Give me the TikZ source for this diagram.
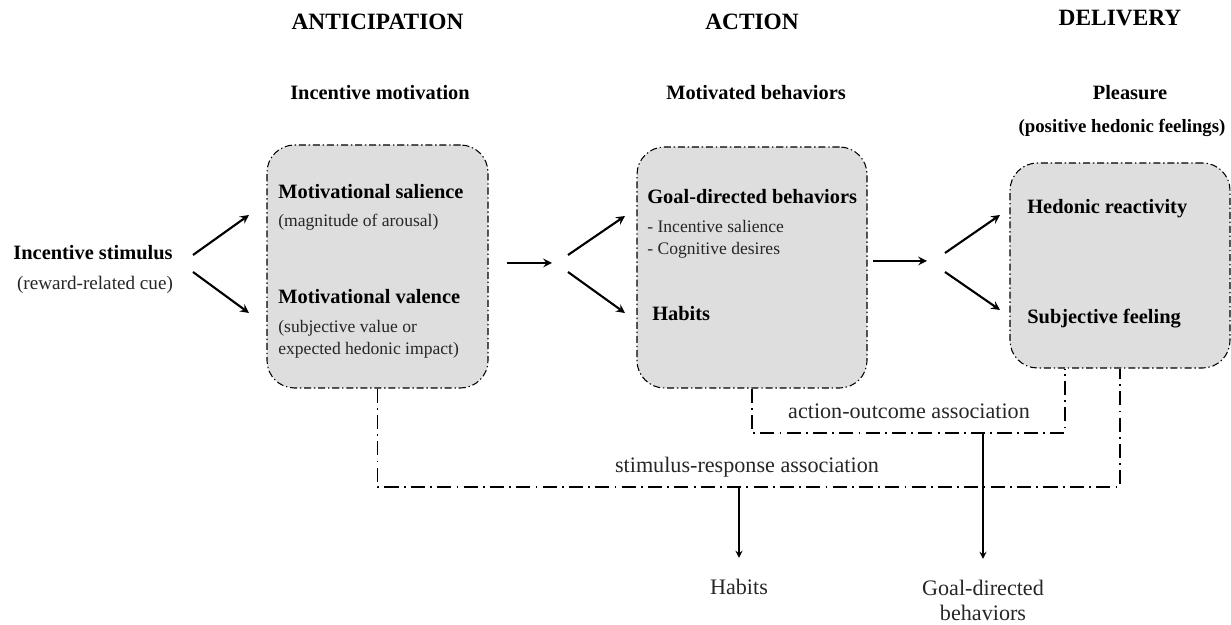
\documentclass[tikz,border=0pt]{standalone}
\usepackage{fontspec}
\setmainfont{Liberation Serif}
\usetikzlibrary{arrows}
\definecolor{boxgray}{HTML}{DEDEDE}
\begin{document}
\begin{tikzpicture}[>=stealth,x=1cm,y=1cm,
	box/.style={draw,fill=boxgray,rounded corners=0.55cm,line width=0.6pt,dash pattern=on 4pt off 1.6pt on 0.8pt off 1.6pt},
	head/.style={font=\fontsize{13.3}{15}\selectfont\bfseries},
	title/.style={font=\fontsize{11.6}{13}\selectfont\bfseries},
	lab/.style={anchor=west,inner sep=0pt,font=\fontsize{11.6}{13}\selectfont\bfseries},
	note/.style={anchor=west,inner sep=0pt,align=left,text=black!85,font=\fontsize{10}{12.5}\selectfont},
	outtext/.style={inner sep=0pt,align=center,text=black!85,font=\fontsize{12.6}{14.2}\selectfont},
	assoc/.style={line width=0.9pt,dash pattern=on 8pt off 3pt on 1pt off 3pt},
	flow/.style={->,line width=1.2pt}]
	\useasboundingbox (0,0) rectangle (24.62,12.5);
	% stages
	\node[head] (antic) at (7.55,12.06) {ANTICIPATION};
	\node[head] (act) at (15.04,12.06) {ACTION};
	\node[head] (deliv) at (22.4,12.14) {DELIVERY};
	\node[title] (incmot) at (7.6,10.64) {Incentive motivation};
	\node[title] (motbeh) at (15.12,10.64) {Motivated behaviors};
	\node[title] (pleasure) at (22.6,10.64) {Pleasure};
	\node[font=\fontsize{10.7}{12}\selectfont\bfseries] (poshed) at (22.44,9.94) {(positive hedonic feelings)};
	\node[title] (stim) at (1.86,7.44) {Incentive stimulus};
	\node[font=\fontsize{10.9}{13}\selectfont,text=black!85] (cue) at (1.9,6.8) {(reward-related cue)};
	% boxes
	\node[box,minimum width=4.42cm,minimum height=4.86cm] (incent) at (7.55,7.17) {};
	\node[box,minimum width=4.6cm,minimum height=4.82cm] (behav) at (15.04,7.15) {};
	\node[box,minimum width=4.4cm,minimum height=4.1cm] (pleas) at (22.4,7.19) {};
	\node[lab] (sal) at (5.56,8.66) {Motivational salience};
	\node[note] (salnote) at (5.56,8.06) {(magnitude of arousal)};
	\node[lab] (val) at (5.56,6.56) {Motivational valence};
	\node[note] (valnote) at (5.56,5.72) {(subjective value or\\expected hedonic impact)};
	\node[lab] (goal) at (12.94,8.56) {Goal-directed behaviors};
	\node[note] (goalnote) at (12.94,7.72) {- Incentive salience\\- Cognitive desires};
	\node[lab] (habit) at (13.04,6.22) {Habits};
	\node[lab] (hedon) at (20.54,8.32) {Hedonic reactivity};
	\node[lab] (subj) at (20.54,6.12) {Subjective feeling};
	% arrows
	\coordinate (a0) at (3.86,7.4);  \coordinate (a1) at (4.98,8.2);
	\coordinate (a2) at (3.86,7.06); \coordinate (a3) at (4.98,6.24);
	\coordinate (b0) at (10.14,7.24); \coordinate (b1) at (11.04,7.24);
	\coordinate (b2) at (11.36,7.4);  \coordinate (b3) at (12.5,8.18);
	\coordinate (b4) at (11.36,7.06); \coordinate (b5) at (12.5,6.24);
	\coordinate (c0) at (17.46,7.28); \coordinate (c1) at (18.54,7.28);
	\coordinate (c2) at (18.9,7.44);  \coordinate (c3) at (20.0,8.2);
	\coordinate (c4) at (18.9,7.06);  \coordinate (c5) at (20.0,6.3);
	\draw[flow] (a0) -- (a1);
	\draw[flow] (a2) -- (a3);
	\draw[flow] (b0) -- (b1);
	\draw[flow] (b2) -- (b3);
	\draw[flow] (b4) -- (b5);
	\draw[flow] (c0) -- (c1);
	\draw[flow] (c2) -- (c3);
	\draw[flow] (c4) -- (c5);
	% associations
	\coordinate (aoR) at (21.3,3.84);
	\coordinate (srR) at (22.4,2.76);
	\draw[assoc] (behav.south) |- (aoR) -- (aoR |- pleas.south);
	\draw[assoc] (incent.south) |- (srR) -- (pleas.south);
	\node[outtext] (aolab) at (18.18,4.28) {action-outcome association};
	\node[outtext] (srlab) at (14.94,3.16) {stimulus-response association};
	\node[outtext] (habits) at (14.78,0.76) {Habits};
	\node[outtext] (goaldir) at (19.66,0.49) {Goal-directed\\behaviors};
	\coordinate (srout) at (14.78,2.76);
	\coordinate (aoout) at (19.66,3.84);
	\draw[->,line width=0.8pt,shorten >=0.42cm] (srout) -- (habits.north);
	\draw[->,line width=0.8pt,shorten >=0.42cm] (aoout) -- (goaldir.north);
\end{tikzpicture}
\end{document}
